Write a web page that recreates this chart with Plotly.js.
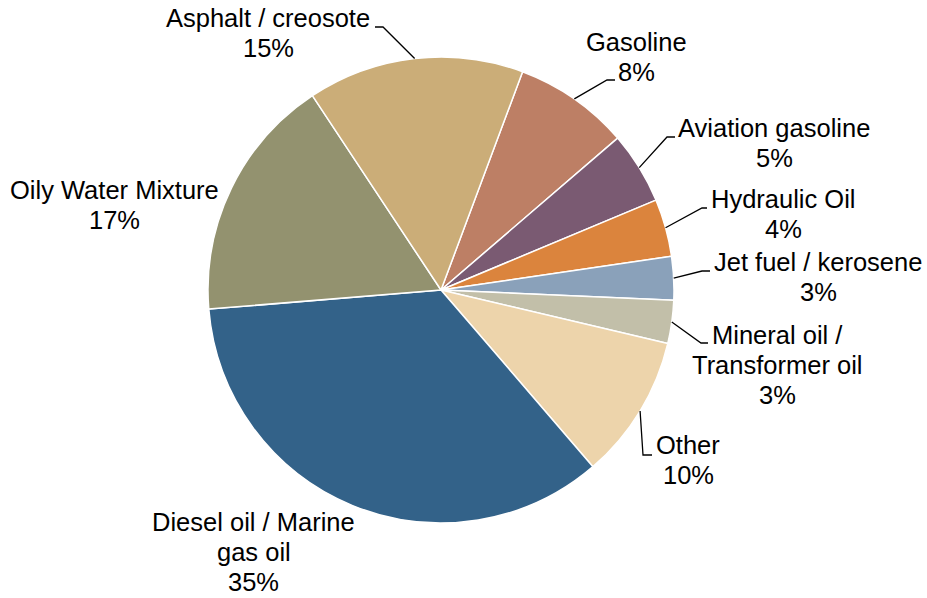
<!DOCTYPE html>
<html>
<head>
<meta charset="utf-8">
<script src="https://cdn.plot.ly/plotly-3.0.1.min.js"></script>
<style>html,body{margin:0;padding:0;background:#fff;}#chart{width:927px;height:598px;}</style>
</head>
<body>
<div id="chart"></div>
<script>
// ---- data ----
const categories = ["Gasoline", "Aviation gasoline", "Hydraulic Oil", "Jet fuel / kerosene",
  "Mineral oil /<br>Transformer oil", "Other", "Diesel oil / Marine<br>gas oil",
  "Oily Water Mixture", "Asphalt / creosote"];
const shares = [8, 5, 4, 3, 3, 10, 35, 17, 15];
const shareLabels = ["8%", "5%", "4%", "3%", "3%", "10%", "35%", "17%", "15%"];

// ---- style / layout ----
const colors = ["#BD7F65", "#7A5A72", "#DB843D", "#8AA1BA", "#C2BFA9", "#EDD4AB",
  "#336289", "#93926F", "#CBAD78"];
const W = 927, H = 598;
const CX = 441, CY = 290, R = 233;
const ROT = 20.5;
const FONT = {family: 'Liberation Sans, Arial, sans-serif', size: 25.5, color: '#000'};
const LH = 29.8;
// label block centers (px) and leader elbow/end (px); null = no leader
const labelPos = [[636,57],[774,143],[783,214],[818,277],[777,365],[688,460],[254,552],[114,205],[268,33]];
const leaders = [[[607,80],[615,80]], [[667,137],[675,137]], [[702,208],[707,208]],
  [[702,271],[710,271]], [[701,343],[708,343]], [[643,455],[652,455]], null, null,
  [[383,27],[375,27]]];

const px = x => x / W;
const py = y => 1 - y / H;

const total = shares.reduce((a, b) => a + b, 0);
const annotations = [];
const shapes = [];
let acc = ROT;
shares.forEach((v, i) => {
  const span = v / total * 360;
  const mid = (acc + span / 2) * Math.PI / 180;
  acc += span;
  const lines = categories[i].split('<br>').concat([shareLabels[i]]);
  lines.forEach((t, k) => {
    annotations.push({
      xref: 'paper', yref: 'paper', x: px(labelPos[i][0]),
      y: py(labelPos[i][1] + (k - (lines.length - 1) / 2) * LH),
      xanchor: 'center', yanchor: 'middle', align: 'center', showarrow: false,
      text: t, font: FONT
    });
  });
  if (leaders[i]) {
    const ex = CX + R * Math.sin(mid), ey = CY - R * Math.cos(mid);
    const pts = [[ex, ey], leaders[i][0], leaders[i][1]];
    const path = 'M' + pts.map(p => px(p[0]) + ',' + py(p[1])).join(' L');
    shapes.push({type: 'path', xref: 'paper', yref: 'paper', path: path,
      line: {color: '#000', width: 1.3}});
  }
});

const trace = {
  type: 'pie',
  labels: categories,
  values: shares,
  sort: false,
  direction: 'clockwise',
  rotation: ROT,
  textinfo: 'none',
  hoverinfo: 'none',
  marker: {colors: colors, line: {color: '#FFFFFF', width: 1.5}},
  domain: {x: [(CX - R) / W, (CX + R) / W], y: [1 - (CY + R) / H, 1 - (CY - R) / H]},
  showlegend: false
};

const layout = {
  width: W, height: H,
  margin: {l: 0, r: 0, t: 0, b: 0},
  paper_bgcolor: '#fff',
  showlegend: false,
  annotations: annotations,
  shapes: shapes
};

Plotly.newPlot('chart', [trace], layout, {staticPlot: true, displayModeBar: false});
</script>
</body>
</html>
